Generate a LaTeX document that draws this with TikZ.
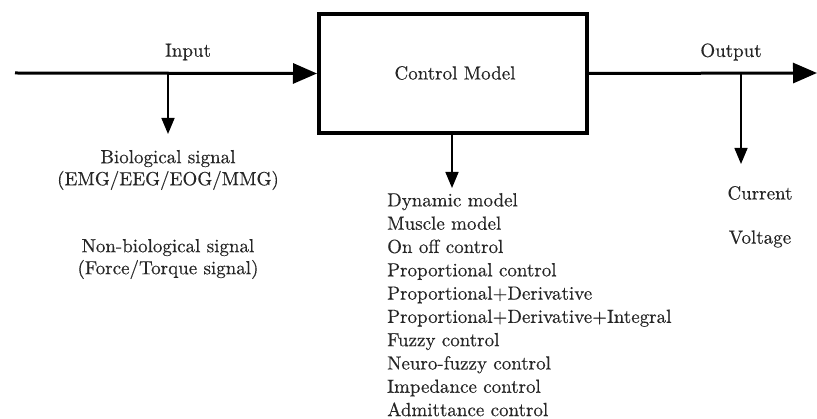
\documentclass[tikz,border=0pt]{standalone}
\usepackage{fontspec}
\setmainfont{lmroman10-regular.otf}[FakeBold=0.4]
\usetikzlibrary{arrows.meta}
\begin{document}
\begin{tikzpicture}[x=1pt,y=-1pt,
  lbl/.style={inner sep=0pt,text=black!85,font=\fontsize{19}{22}\selectfont},
  mainline/.style={line width=3pt,-{Triangle[length=24pt,width=20pt]}},
  droparrow/.style={line width=1.6pt,-{Triangle[length=16pt,width=13pt]}}]
\useasboundingbox (0,0) rectangle (817,419);
% control block
\node[draw,line width=4pt,minimum width=268pt,minimum height=119pt,inner sep=0pt] (box) at (453,73.5) {};
\node[lbl] (cm) at (455,73) {Control Model};
% input and output lines
\coordinate (start) at (15,73);
\coordinate (stop) at (817,73);
\draw[mainline] (start) -- (box.west);
\draw[mainline] (box.east) -- (stop);
\node[lbl] (in) at (188,52) {Input};
\node[lbl] (out) at (731,52) {Output};
% branch points on the signal lines
\coordinate (inbr) at (168,73);
\coordinate (inend) at (168,134);
\coordinate (outbr) at (741,73);
\coordinate (outend) at (741,164);
\coordinate (cmbr) at (452,134);
\coordinate (cmend) at (452,188);
\draw[droparrow] (inbr) -- (inend);
\draw[droparrow] (outbr) -- (outend);
\draw[droparrow] (cmbr) -- (cmend);
% input signals
\node[lbl,align=center] (bio) at (168,170) {Biological signal\\(EMG/EEG/EOG/MMG)};
\node[lbl,align=center] (nonbio) at (168,259) {Non-biological signal\\(Force/Torque signal)};
% output quantities
\node[lbl] (cur) at (760,193) {Current};
\node[lbl] (volt) at (760,239) {Voltage};
% control strategies
\node[lbl,align=left,anchor=north west,font=\fontsize{19}{23.3}\selectfont] (list) at (387,193) {Dynamic model\\Muscle model\\On off control\\Proportional control\\Proportional+Derivative\\Proportional+Derivative+Integral\\Fuzzy control\\Neuro-fuzzy control\\Impedance control\\Admittance control};
\end{tikzpicture}
\end{document}
